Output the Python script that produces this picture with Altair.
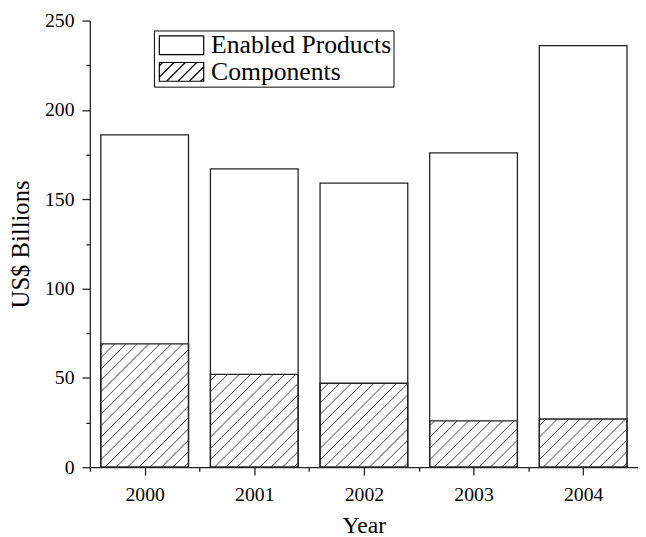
import altair as alt
import pandas as pd

# ---- data ----
years = [2000, 2001, 2002, 2003, 2004]
components = [69, 52, 47, 26, 27]
enabled_products = [117, 115, 112, 150, 209]   # totals: 186, 167, 159, 176, 236
series_names = ["Enabled Products", "Components"]
y_tick_values = [0, 25, 50, 75, 100, 125, 150, 175, 200, 225, 250]
x_tick_values = [1999.5, 2000, 2000.5, 2001, 2001.5, 2002, 2002.5,
                 2003, 2003.5, 2004, 2004.5]

df = pd.DataFrame({"year": years, "components": components,
                   "enabled": enabled_products})

# ---- layout / style ----
W, H = 556, 453
X_DOMAIN = [1999.5, 2004.5]
Y_DOMAIN = [0, 250]
PX_PER_YEAR = W / (X_DOMAIN[1] - X_DOMAIN[0])
PX_PER_UNIT = H / (Y_DOMAIN[1] - Y_DOMAIN[0])
HALF = 0.4                       # half bar width in years
BAR_PX = 2 * HALF * PX_PER_YEAR  # bar width in pixels
PERIOD = 11.5                    # hatch spacing (px, horizontal)
PHASE = 4.0
FONT = "Liberation Serif"
INK = "#222222"

# legend symbols: plain rectangle and hatched rectangle (custom SVG paths)
SYM_SIZE = 361                 # sqrt -> 19 px tall
UNIT = SYM_SIZE ** 0.5 / 2     # px per path unit
RIGHT = -1 + 45 / UNIT         # 45 px wide
rect_path = f"M-1,-1H{RIGHT:.3f}V1H-1Z"
segs = []
step = PERIOD / UNIT
c = -2 + 0.35
while c < RIGHT + 1:
    xs = max(c - 1, -1)
    xe = min(c + 1, RIGHT)
    if xs < xe:
        segs.append(f"M{xs:.3f},{c - xs:.3f}L{xe:.3f},{c - xe:.3f}")
    c += step
hatch_path = rect_path + "".join(segs)

xscale = alt.Scale(domain=X_DOMAIN, nice=False, zero=False)
yscale = alt.Scale(domain=Y_DOMAIN, nice=False, zero=False)

X_MAJOR = "abs(datum.value - round(datum.value)) < 0.01"
Y_MAJOR = "abs(datum.value / 50 - round(datum.value / 50)) < 0.01"

x_axis = alt.Axis(
    values=x_tick_values, title="Year",
    labelExpr=f"{X_MAJOR} ? format(datum.value, 'd') : ''",
    tickSize={"condition": {"test": X_MAJOR, "value": 8}, "value": 4},
    labelFontSize=20, titleFontSize=24, labelPadding=10, titlePadding=9,
    labelOverlap=False, labelFlush=False, grid=False,
)
y_axis = alt.Axis(
    values=y_tick_values, title="US$ Billions",
    labelExpr=f"{Y_MAJOR} ? datum.label : ''",
    tickSize={"condition": {"test": Y_MAJOR, "value": 8}, "value": 4},
    labelFontSize=20, titleFontSize=25, labelPadding=8, titlePadding=11,
    labelOverlap=False, labelFlush=False, grid=False,
)

base = alt.Chart(df).transform_calculate(
    total="datum.components + datum.enabled",
    x0=f"datum.year - {HALF}",
    x1=f"datum.year + {HALF}",
)

totals = base.mark_bar(fill="white", stroke=INK, strokeWidth=1.3).encode(
    x=alt.X("x0:Q", scale=xscale, axis=x_axis),
    x2="x1:Q",
    y=alt.Y("total:Q", scale=yscale, axis=y_axis, stack=None),
    y2=alt.datum(0),
)

hatch = base.transform_calculate(
    hpx=f"datum.components * {PX_PER_UNIT}",
).transform_calculate(
    k=f"sequence(-ceil(datum.hpx / {PERIOD}) - 1, ceil({BAR_PX} / {PERIOD}) + 2)",
).transform_flatten(["k"]).transform_calculate(
    d=f"datum.k * {PERIOD} + {PHASE}",
).transform_filter(
    f"datum.d > -datum.hpx && datum.d < {BAR_PX}"
).transform_calculate(
    hx0=f"datum.x0 + max(datum.d, 0) / {PX_PER_YEAR}",
    hy0=f"max(-datum.d, 0) / {PX_PER_UNIT}",
    hx1=f"datum.x0 + min(datum.hpx + datum.d, {BAR_PX}) / {PX_PER_YEAR}",
    hy1=f"min({BAR_PX} - datum.d, datum.hpx) / {PX_PER_UNIT}",
).mark_rule(color="#2a2a2a", strokeWidth=0.9).encode(
    x=alt.X("hx0:Q", scale=xscale, axis=x_axis),
    x2="hx1:Q",
    y=alt.Y("hy0:Q", scale=yscale, axis=y_axis),
    y2="hy1:Q",
)

comp_outline = base.mark_bar(fillOpacity=0, stroke=INK, strokeWidth=1.3).encode(
    x=alt.X("x0:Q", scale=xscale, axis=x_axis),
    x2="x1:Q",
    y=alt.Y("components:Q", scale=yscale, axis=y_axis, stack=None),
    y2=alt.datum(0),
)

legend_layer = base.transform_fold(
    ["enabled", "components"], as_=["key", "value"]
).transform_calculate(
    series=f"datum.key === 'enabled' ? '{series_names[0]}' : '{series_names[1]}'"
).mark_point(color="black", opacity=0, size=SYM_SIZE, strokeWidth=1.2).encode(
    x=alt.X("year:Q", scale=xscale, axis=x_axis),
    y=alt.Y("value:Q", scale=yscale, axis=y_axis),
    shape=alt.Shape(
        "series:N",
        scale=alt.Scale(domain=series_names, range=[rect_path, hatch_path]),
        legend=alt.Legend(
            title=None, orient="none", legendX=65, legendY=10,
            symbolSize=SYM_SIZE, symbolOpacity=1, symbolStrokeColor="black",
            symbolFillColor="white", symbolStrokeWidth=1.2,
            labelFontSize=26, labelFont=FONT, labelColor="black",
            labelOffset=30, labelLimit=400, rowPadding=1, padding=2,
            strokeColor="black", fillColor="white",
        ),
    ),
)

chart = alt.layer(totals, hatch, comp_outline, legend_layer).properties(
    width=W, height=H,
    autosize=alt.AutoSizeParams(type="none"),
    padding={"left": 83, "top": 9, "right": 0, "bottom": 68},
).configure_view(stroke=None).configure_axis(
    labelFont=FONT, titleFont=FONT, labelColor="black", titleColor="black",
    domainColor=INK, tickColor=INK, domainWidth=1.3, tickWidth=1.3,
    titleFontWeight="normal",
).configure_legend(labelFont=FONT)

chart.save("out.html", embed_options={"renderer": "svg", "actions": False})
